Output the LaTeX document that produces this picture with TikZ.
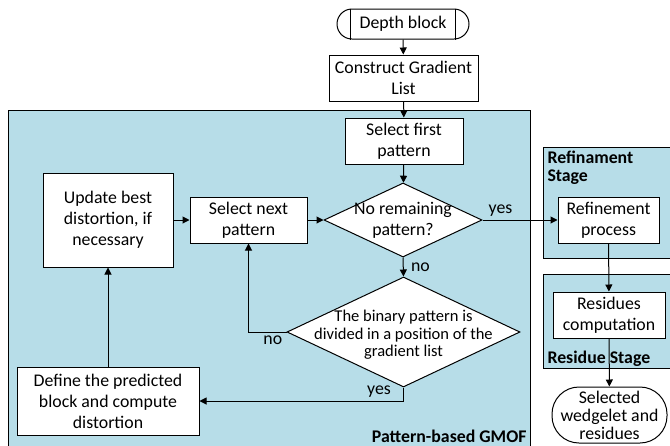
\documentclass[tikz,border=0pt]{standalone}
\usepackage{fontspec}
\setmainfont{Carlito}
\usetikzlibrary{shapes.geometric,arrows.meta}
\definecolor{panelblue}{RGB}{183,221,232}
\begin{document}
\begin{tikzpicture}[x=1pt,y=-1pt,line width=1pt,
  font=\fontsize{17.8}{21}\selectfont,
  >={Triangle[length=7pt,width=7pt]},
  box/.style={draw,fill=white,align=center,inner sep=0pt},
  decision/.style={draw,fill=white,diamond,inner sep=0pt},
  panel/.style={draw,fill=panelblue},
  stagetext/.style={font=\fontsize{17.8}{18}\selectfont\bfseries,align=left,inner sep=0pt},
  tight/.style={font=\fontsize{17.8}{18}\selectfont}]

\useasboundingbox (0,0) rectangle (670,445);

% stage panels
\draw[panel] (8,110) rectangle (530,452);
\draw[panel] (543,147) rectangle (680,258);
\draw[panel] (543,274) rectangle (680,368);
\node[stagetext,anchor=base east] (gmoflabel) at (527,442) {Pattern-based GMOF};
\node[stagetext,anchor=north west] (refinelabel) at (547,150) {Refinament\\Stage};
\node[stagetext,anchor=base west] (residlabel) at (547,363) {Residue Stage};

% main column
\node[box,rounded corners=15,minimum width=132,minimum height=30] (depth) at (403,24) {Depth block};
\draw ([xshift=14pt]depth.north west) -- ([xshift=14pt]depth.south west);
\draw ([xshift=-14pt]depth.north east) -- ([xshift=-14pt]depth.south east);
\node[box,minimum width=149,minimum height=46] (grad) at (403.5,78) {Construct Gradient\\List};
\node[box,minimum width=118,minimum height=46] (first) at (404,141) {Select first\\pattern};
\node[decision,minimum width=158,minimum height=74,
  label={[align=center]center:No remaining\\pattern?}] (remain) at (403,220) {};
\node[decision,minimum width=233,minimum height=110,
  label={[align=center,font=\fontsize{16.5}{17.5}\selectfont,yshift=-3pt]center:The binary pattern is\\divided in a position of the\\gradient list}] (divided) at (403.5,332) {};

% loop boxes
\node[box,minimum width=117,minimum height=46] (next) at (248.5,220) {Select next\\pattern};
\node[box,minimum width=130,minimum height=94] (update) at (108,220) {Update best\\distortion, if\\necessary};
\node[box,minimum width=182,minimum height=68] (define) at (108,401) {Define the predicted\\block and compute\\distortion};

% right column
\node[box,minimum width=101,minimum height=46] (refine) at (608.5,220) {Refinement\\process};
\node[box,minimum width=112,minimum height=46] (resid) at (609,315) {Residues\\computation};
\node[box,tight,rounded corners=27,minimum width=115,minimum height=56] (selected) at (609.5,415) {Selected\\wedgelet and\\residues};

\draw[->] (depth) -- (grad);
\draw[->] (grad) -- (first);
\draw[->] (first) -- (remain);
\draw[->] (remain.east) -- node[pos=0.24,above] {yes} (refine.west);
\draw[->] (remain.south) -- node[right,xshift=4pt] {no} (divided.north);
\draw[->] (divided.west) -| node[pos=0.18,below] {no} (next.south);
\draw[->] (divided.south) |- node[pos=0.56,above] {yes} (define.east);
\draw[->] (define) -- (update);
\draw[->] (update) -- (next);
\draw[->] (next) -- (remain.west);
\draw[->] (refine) -- (resid);
\draw[->] (resid) -- (selected);
\end{tikzpicture}
\end{document}
